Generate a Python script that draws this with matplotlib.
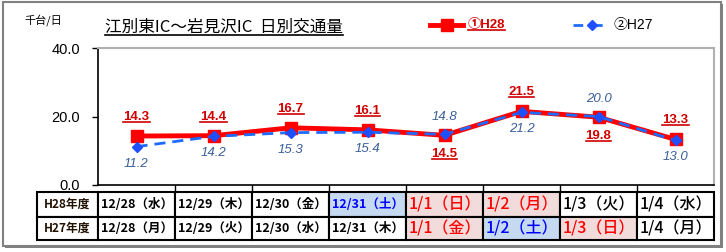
import numpy as np
import matplotlib.pyplot as plt
from matplotlib.patches import Rectangle
from matplotlib.lines import Line2D

plt.rcParams['font.family'] = ['Noto Sans CJK JP', 'DejaVu Sans']

# datos
h28 = [14.3, 14.4, 16.7, 16.1, 14.5, 21.5, 19.8, 13.3]
h27 = [11.2, 14.2, 15.3, 15.4, 14.8, 21.2, 20.0, 13.0]
h28_abajo = [False, False, False, False, True, False, True, False]   # etiqueta debajo del punto
h27_arriba = [False, False, False, False, True, False, True, False]  # etiqueta encima del punto
fila_h28 = ['12/28（水）', '12/29（木）', '12/30（金）', '12/31（土）',
            '1/1（日）', '1/2（月）', '1/3（火）', '1/4（水）']
fila_h27 = ['12/28（月）', '12/29（火）', '12/30（水）', '12/31（木）',
            '1/1（金）', '1/2（土）', '1/3（日）', '1/4（月）']
# tipo de dia: 0 normal, 1 sabado, 2 festivo
tipo_h28 = [0, 0, 0, 1, 2, 2, 0, 0]
tipo_h27 = [0, 0, 0, 0, 2, 1, 2, 0]
grande_h28 = [False, False, False, False, True, True, True, True]
grande_h27 = [False, False, False, False, True, True, True, True]

W, H = 726, 252
fig = plt.figure(figsize=(W / 100, H / 100), dpi=100)

def px(x0, y0, x1, y1):
    return [x0 / W, 1 - y1 / H, (x1 - x0) / W, (y1 - y0) / H]

# marco exterior con sombra
fig.patches.append(Rectangle((5 / W, 1 - 248 / H), 718 / W, 244 / H, transform=fig.transFigure,
                             facecolor='#808080', edgecolor='none', zorder=-2))
fig.patches.append(Rectangle((3 / W, 1 - 246 / H), 718 / W, 244 / H, transform=fig.transFigure,
                             facecolor='white', edgecolor='#808080', lw=1.5, zorder=-1))

ax = fig.add_axes(px(98, 48, 714, 185))
ax.patch.set_visible(False)
x = np.arange(len(h28))
ax.plot(x, h28, color='#ff0000', lw=3.5, marker='s', ms=9, mec='#ff0000', zorder=3)
ax.plot(x, h27, color='#1e6cff', lw=2, ls=(0, (4, 2.5)), marker='D', ms=5.5,
        mfc='#1e50ff', mec='#1e50ff', zorder=4)
ax.set_xlim(-0.5, len(h28) - 0.5)
ax.set_ylim(0, 40)
ax.set_yticks([0, 20, 40])
ax.set_yticklabels(['0.0', '20.0', '40.0'], family='Liberation Sans', fontsize=10.5)
ax.set_xticks(np.arange(0.5, len(h28) - 1, 1))
ax.set_xticklabels([])
ax.tick_params(axis='x', length=4, direction='out', width=1)
ax.tick_params(axis='y', length=4, direction='out', width=1, pad=9)
for s in ['top', 'right']:
    ax.spines[s].set_color('#b0b0b0')
    ax.spines[s].set_linewidth(1.5)
for s in ['left', 'bottom']:
    ax.spines[s].set_color('black')
    ax.spines[s].set_linewidth(1.2)

subrayar = []
for i in range(len(h28)):
    dy = -19 if h28_abajo[i] else 19
    t = ax.annotate(f'{h28[i]:.1f}', (x[i], h28[i]), xytext=(0, dy), textcoords='offset pixels',
                    ha='center', va='center', color='#d00000', fontweight='bold',
                    family='Liberation Sans', fontsize=9.5)
    subrayar.append((t, '#d00000'))
    dy = 17 if h27_arriba[i] else -17
    ax.annotate(f'{h27[i]:.1f}', (x[i], h27[i]), xytext=(0, dy), textcoords='offset pixels',
                ha='center', va='center', color='#3a5f9a', style='italic',
                family='Liberation Sans', fontsize=9.5)

# titulo y unidades
tt = fig.text(105 / W, 1 - 27 / H, '江別東IC～岩見沢IC  日別交通量', fontsize=12,
              va='center', ha='left')
subrayar.append((tt, 'black'))
fig.text(24 / W, 1 - 20 / H, '千台/日', fontsize=8, va='center', ha='left')

# leyenda
fig.lines.append(Line2D([430 / W, 463 / W], [1 - 25 / H] * 2, transform=fig.transFigure,
                        color='#ff0000', lw=3.5, zorder=5))
fig.lines.append(Line2D([446.5 / W], [1 - 25 / H], transform=fig.transFigure,
                        color='#ff0000', marker='s', ms=8, zorder=6))
lt = fig.text(468 / W, 1 - 25 / H, '①H28', fontsize=9.5, color='#d00000', fontweight='bold',
              va='center', ha='left', family=['Liberation Sans', 'Noto Sans CJK JP'])
subrayar.append((lt, '#d00000'))
fig.lines.append(Line2D([573 / W, 610 / W], [1 - 25 / H] * 2, transform=fig.transFigure,
                        color='#1e6cff', lw=2, ls=(0, (3.5, 3.5)), zorder=5))
fig.lines.append(Line2D([591.5 / W], [1 - 25 / H], transform=fig.transFigure,
                        color='#1e50ff', marker='D', ms=5.5, zorder=6))
fig.text(613 / W, 1 - 25 / H, '②H27', fontsize=10, color='black',
         va='center', ha='left', family=['Liberation Sans', 'Noto Sans CJK JP'])

# tabla
tab = fig.add_axes([0, 0, 1, 1])
tab.set_xlim(0, W)
tab.set_ylim(H, 0)
tab.axis('off')
tab.patch.set_visible(False)
col0, col1, ancho = 37, 98, 77
filas = [(192, 217), (217, 240)]
fondos = {0: 'white', 1: '#c5d9f1', 2: '#f2dcdb'}
tintas = {0: 'black', 1: '#0000ff', 2: '#ff0000'}
for r, (nombre, textos, tipos, grandes) in enumerate([('H28年度', fila_h28, tipo_h28, grande_h28),
                                                        ('H27年度', fila_h27, tipo_h27, grande_h27)]):
    y0, y1 = filas[r]
    tab.add_patch(Rectangle((col0, y0), col1 - col0, y1 - y0, facecolor='white',
                            edgecolor='black', lw=1.5))
    tab.text((col0 + col1) / 2, (y0 + y1) / 2, nombre, ha='center', va='center',
             fontsize=8.5, fontweight='bold', color='#201000')
    for i, s in enumerate(textos):
        cx = col1 + i * ancho
        tab.add_patch(Rectangle((cx, y0), ancho, y1 - y0, facecolor=fondos[tipos[i]],
                                edgecolor='black', lw=1.5))
        tab.text(cx + ancho / 2, (y0 + y1) / 2 + 0.5, s, ha='center', va='center',
                 fontsize=11.5 if grandes[i] else 9, fontweight='bold' if not grandes[i] else 'medium',
                 color=tintas[tipos[i]])

# subrayados
fig.canvas.draw()
r = fig.canvas.get_renderer()
for t, c in subrayar:
    bb = t.get_window_extent(r)
    yy = bb.y0 + 1
    fig.lines.append(Line2D([bb.x0 / W, bb.x1 / W], [yy / H, yy / H], transform=fig.transFigure,
                            color=c, lw=1.2, zorder=7))

fig.savefig('out.png', dpi=100)
